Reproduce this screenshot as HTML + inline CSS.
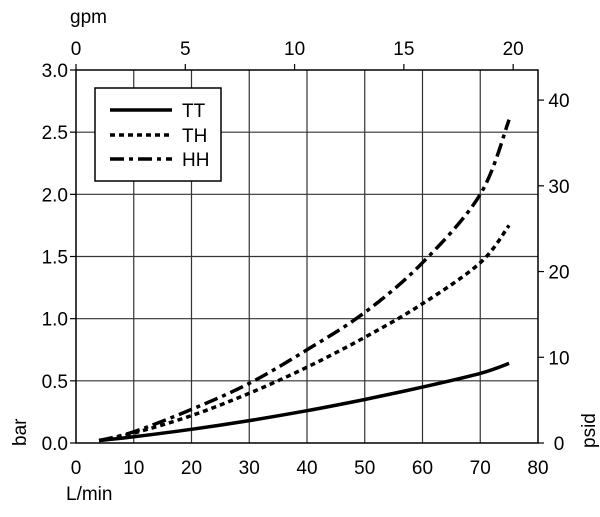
<!DOCTYPE html>
<html><head><meta charset="utf-8"><style>
body{margin:0;background:#fff;width:600px;height:512px;overflow:hidden}
text{font-family:"Liberation Sans",sans-serif;font-size:19px;fill:#000}
</style></head><body>
<svg id="c" width="600" height="512"></svg>
<script>
const xTicks=[0,10,20,30,40,50,60,70,80];
const yTicks=[0,0.5,1,1.5,2,2.5,3];
const gpmTicks=[0,5,10,15,20];
const psiTicks=[0,10,20,30,40];
const flowLmin=[4,10,20,30,40,50,60,70,75];
const ttBar=[0.02,0.05,0.11,0.18,0.26,0.35,0.45,0.56,0.64];
const thBar=[0.02,0.08,0.22,0.40,0.61,0.85,1.12,1.45,1.75];
const hhBar=[0.02,0.09,0.27,0.48,0.75,1.05,1.45,2.0,2.6];
const X0=76,X1=538,Y0=443,Y1=70;
const sx=v=>X0+(v/80)*(X1-X0);
const sy=v=>Y0-(v/3)*(Y0-Y1);
const svg=document.getElementById('c');const NS='http://www.w3.org/2000/svg';
function el(t,a,txt){const e=document.createElementNS(NS,t);for(const k in a)e.setAttribute(k,a[k]);if(txt!==undefined)e.textContent=txt;svg.appendChild(e);return e;}
xTicks.forEach(v=>{
 if(v>0&&v<80){const g=el('line',{x1:sx(v),x2:sx(v),y1:Y1,y2:Y0,stroke:'#333','stroke-width':1.2});
 
 }
 const t=el('text',{x:sx(v),y:474,'text-anchor':'middle'},String(v));
 
 
});
yTicks.forEach(v=>{
 if(v>0&&v<3){const g=el('line',{x1:X0,x2:X1,y1:sy(v),y2:sy(v),stroke:'#333','stroke-width':1.2});
 
 }
 const tk=el('line',{x1:X0-6,x2:X0,y1:sy(v),y2:sy(v),stroke:'#000','stroke-width':1.2});
 
 
 const t=el('text',{x:X0-8,y:sy(v)+7,'text-anchor':'end'},v.toFixed(1));
 
 
});
gpmTicks.forEach(v=>{
 const x=sx(v*3.785);
 const tk=el('line',{x1:x,x2:x,y1:Y1-6,y2:Y1,stroke:'#000','stroke-width':1.2});
 
 
 const t=el('text',{x:x,y:55,'text-anchor':'middle'},String(v));
 
 
});
psiTicks.forEach(v=>{
 const y=sy(v*0.068948);
 const tk=el('line',{x1:X1,x2:X1+6,y1:y,y2:y,stroke:'#000','stroke-width':1.2});
 
 
 const t=el('text',{x:X1+21,y:y+7,'text-anchor':'middle'},String(v));
 
 
});
const fr=el('rect',{x:X0,y:Y1,width:X1-X0,height:Y0-Y1,fill:'none',stroke:'#000','stroke-width':1.5});


function series(arr,dash,name){
 const P=flowLmin.map((f,i)=>[sx(f),sy(arr[i])]);
 let d='M'+P[0][0].toFixed(1)+','+P[0][1].toFixed(1);
 for(let i=0;i<P.length-1;i++){
  const p0=P[Math.max(0,i-1)],p1=P[i],p2=P[i+1],p3=P[Math.min(P.length-1,i+2)];
  const c1=[p1[0]+(p2[0]-p0[0])/6,p1[1]+(p2[1]-p0[1])/6];
  const c2=[p2[0]-(p3[0]-p1[0])/6,p2[1]-(p3[1]-p1[1])/6];
  d+=' C'+c1[0].toFixed(1)+','+c1[1].toFixed(1)+' '+c2[0].toFixed(1)+','+c2[1].toFixed(1)+' '+p2[0].toFixed(1)+','+p2[1].toFixed(1);
 }
 const p=el('path',{d:d,fill:'none',stroke:'#000','stroke-width':3.5,'stroke-dasharray':dash});
 
 
}
series(ttBar,'none','series-tt');
series(thBar,'5 4','series-th');
series(hhBar,'14 5 4 5','series-hh');
</script>
<svg width="600" height="512" style="position:absolute;left:0;top:0">
<text x="70" y="23">gpm</text>
<text x="66" y="500">L/min</text>
<text transform="translate(26,446) rotate(-90)">bar</text>
<text transform="translate(595,448) rotate(-90)">psid</text>
<g>
<rect x="95" y="88" width="126" height="93" fill="#fff" stroke="#000" stroke-width="1.5"/>
<line x1="110" y1="110" x2="172" y2="110" stroke="#000" stroke-width="3.5"/>
<line x1="110" y1="135" x2="172" y2="135" stroke="#000" stroke-width="3.5" stroke-dasharray="5 4"/>
<line x1="110" y1="159" x2="172" y2="159" stroke="#000" stroke-width="3.5" stroke-dasharray="14 5 4 5"/>
<text x="182" y="117">TT</text>
<text x="182" y="142">TH</text>
<text x="182" y="166">HH</text>
</g>
</svg>
</body></html>
